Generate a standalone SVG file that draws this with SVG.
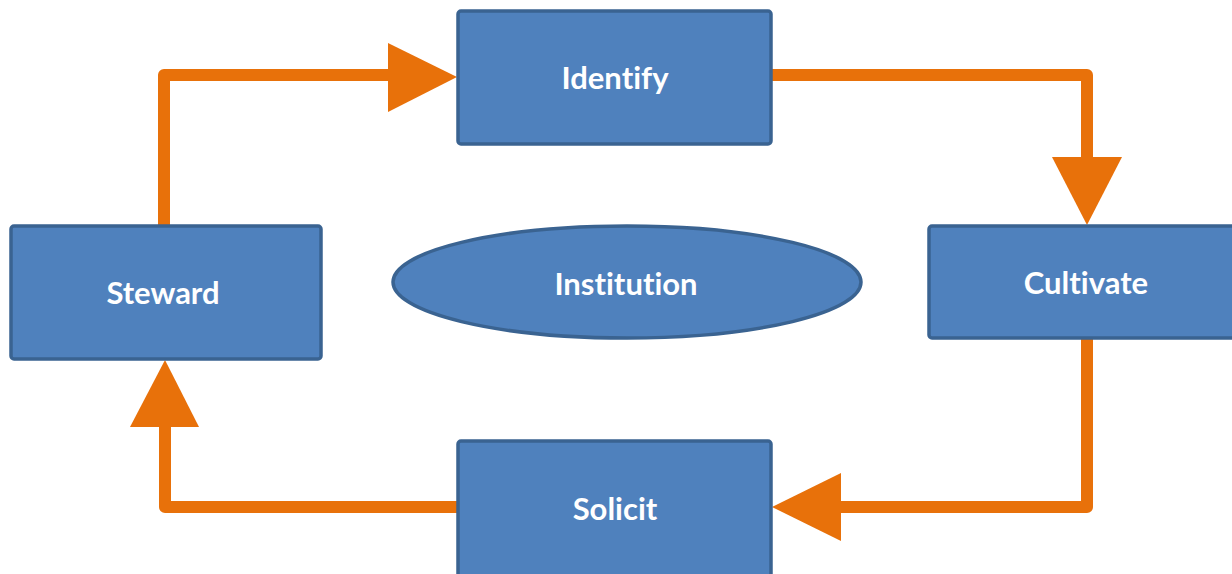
<svg xmlns="http://www.w3.org/2000/svg" width="1232" height="574" viewBox="0 0 1232 574">
<style>
.box{fill:#4F81BD;stroke:#3A6391;stroke-width:3.5}
.lbl{font-family:Lato,"Open Sans",sans-serif;font-weight:bold;font-size:31px;fill:#ffffff;text-anchor:middle;dominant-baseline:central;font-variant-ligatures:none}
.conn{fill:none;stroke:#E8710A;stroke-width:12;stroke-linejoin:round}
.head{fill:#E8710A}
</style>
<rect width="1232" height="574" fill="#ffffff"/>
<g id="connectors">
<path class="conn" d="M164,226 V75 H392"/>
<polygon class="head" points="388,43 457,77 388,112"/>
<path class="conn" d="M772,75 H1087 V160"/>
<polygon class="head" points="1052,157 1122,157 1087,225"/>
<path class="conn" d="M1087,338 V507 H838"/>
<polygon class="head" points="841,473 841,541 772,507"/>
<path class="conn" d="M457,507 H165 V424"/>
<polygon class="head" points="130,427 199,427 165,360"/>
</g>
<g id="identify"><rect class="box" x="458" y="11" width="313" height="133" rx="3"/><text class="lbl" x="615" y="77">Identify</text></g>
<g id="steward"><rect class="box" x="11" y="226" width="310" height="133" rx="3"/><text class="lbl" x="163" y="292">Steward</text></g>
<g id="cultivate"><rect class="box" x="929" y="226" width="310" height="112" rx="3"/><text class="lbl" x="1086" y="282">Cultivate</text></g>
<g id="solicit"><rect class="box" x="458" y="441" width="313" height="140" rx="3"/><text class="lbl" x="615" y="508">Solicit</text></g>
<g id="institution"><ellipse class="box" cx="627" cy="282" rx="234" ry="56"/><text class="lbl" x="626" y="283">Institution</text></g>
</svg>
